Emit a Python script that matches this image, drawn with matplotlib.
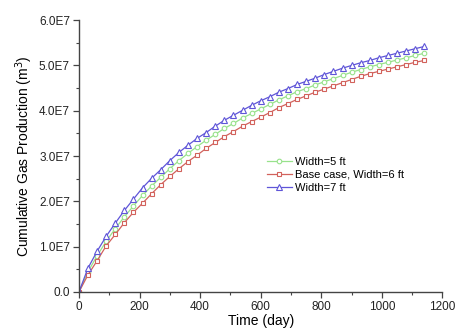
import numpy as np
import matplotlib
matplotlib.use("Agg")
import matplotlib.pyplot as plt
from matplotlib.ticker import MultipleLocator, FuncFormatter

plt.rcParams['font.family'] = ['Liberation Sans', 'DejaVu Sans']

# time in days (one point every 30 days)
days = list(range(0, 1141, 30))

# cumulative gas production, in units of 1E7 m^3
width5 = [0.00, 0.45, 0.80, 1.12, 1.40, 1.66, 1.90, 2.13, 2.34, 2.53,
          2.72, 2.90, 3.06, 3.21, 3.35, 3.48, 3.61, 3.72, 3.84, 3.94,
          4.04, 4.14, 4.24, 4.33, 4.42, 4.49, 4.57, 4.64, 4.71, 4.78,
          4.85, 4.91, 4.97, 5.02, 5.07, 5.12, 5.17, 5.22, 5.27]
width6 = [0.00, 0.38, 0.69, 1.02, 1.27, 1.53, 1.76, 1.96, 2.17, 2.37,
          2.55, 2.72, 2.88, 3.02, 3.17, 3.30, 3.43, 3.54, 3.66, 3.76,
          3.86, 3.96, 4.07, 4.16, 4.25, 4.33, 4.41, 4.48, 4.55, 4.62,
          4.69, 4.76, 4.82, 4.87, 4.92, 4.97, 5.02, 5.07, 5.11]
width7 = [0.00, 0.53, 0.90, 1.23, 1.52, 1.80, 2.05, 2.30, 2.51, 2.70,
          2.90, 3.08, 3.24, 3.39, 3.52, 3.66, 3.79, 3.90, 4.01, 4.12,
          4.22, 4.31, 4.41, 4.49, 4.58, 4.65, 4.72, 4.80, 4.87, 4.94,
          5.00, 5.06, 5.11, 5.17, 5.22, 5.27, 5.32, 5.37, 5.42]

labels = ["Width=5 ft", "Base case, Width=6 ft", "Width=7 ft"]

fig = plt.figure(figsize=(4.59, 3.36), dpi=100)
ax = fig.add_axes([0.172, 0.131, 0.792, 0.809])

scale = 1e7
ax.plot(days, np.array(width5) * scale, color="#98e28c", lw=0.9, marker="o",
        ms=3.3, mfc="white", mec="#98e28c", mew=0.8, label=labels[0])
ax.plot(days, np.array(width6) * scale, color="#d2625c", lw=0.9, marker="s",
        ms=3.3, mfc="white", mec="#d2625c", mew=0.8, label=labels[1])
ax.plot(days, np.array(width7) * scale, color="#5f55d8", lw=0.9, marker="^",
        ms=4.3, mfc="white", mec="#5f55d8", mew=0.8, label=labels[2])

ax.set_xlim(0, 1200)
ax.set_ylim(0, 6e7)
ax.xaxis.set_major_locator(MultipleLocator(200))
ax.xaxis.set_minor_locator(MultipleLocator(100))
ax.yaxis.set_major_locator(MultipleLocator(1e7))
ax.yaxis.set_minor_locator(MultipleLocator(0.5e7))


def yfmt(v, pos):
    if v == 0:
        return "0.0"
    return "%.1fE7" % (v / 1e7)


ax.yaxis.set_major_formatter(FuncFormatter(yfmt))

for s in ["top", "right"]:
    ax.spines[s].set_visible(False)
for s in ["left", "bottom"]:
    ax.spines[s].set_color("#444444")
    ax.spines[s].set_linewidth(1.0)

ax.tick_params(which="major", direction="out", length=4, width=0.9,
               colors="#444444", labelcolor="#222222", labelsize=8.5, pad=2.5)
ax.tick_params(which="minor", direction="out", length=2, width=0.8,
               colors="#444444")

ax.set_xlabel("Time (day)", fontsize=10, labelpad=1)
ax.set_ylabel("Cumulative Gas Production (m$^3$)", fontsize=10, labelpad=3)

ax.legend(loc="upper left", bbox_to_anchor=(0.49, 0.535), frameon=False,
          fontsize=8, handlelength=2.2, handletextpad=0.3, labelspacing=0.3,
          borderpad=0.4)

fig.savefig("out.png", dpi=100)
